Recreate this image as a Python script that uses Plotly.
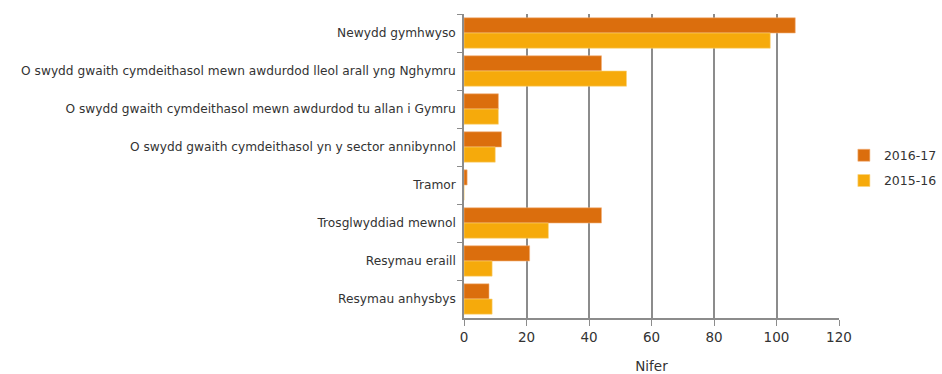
import plotly.graph_objects as go

categories = [
    "Newydd gymhwyso",
    "O swydd gwaith cymdeithasol mewn awdurdod lleol arall yng Nghymru",
    "O swydd gwaith cymdeithasol mewn awdurdod tu allan i Gymru",
    "O swydd gwaith cymdeithasol yn y sector annibynnol",
    "Tramor",
    "Trosglwyddiad mewnol",
    "Resymau eraill",
    "Resymau anhysbys",
]
vals_2016_17 = [106, 44, 11, 12, 1, 44, 21, 8]
vals_2015_16 = [98, 52, 11, 10, 0, 27, 9, 9]

fig = go.Figure()
fig.add_trace(go.Bar(y=categories, x=vals_2016_17, name="2016-17", orientation="h",
                     legendgroup="a",
                     marker=dict(color="#DB6E0D", line=dict(color="#F3B27A", width=0.6))))
fig.add_trace(go.Bar(y=categories, x=vals_2015_16, name="2015-16", orientation="h",
                     legendgroup="b",
                     marker=dict(color="#F6AA0B", line=dict(color="#FAD37E", width=0.6))))

fig.update_layout(
    width=942, height=374,
    margin=dict(l=464, r=103, t=14, b=56, autoexpand=False),
    barmode="group", bargap=0.2, bargroupgap=0,
    plot_bgcolor="white", paper_bgcolor="white",
    font=dict(family="DejaVu Sans, Verdana, sans-serif", size=12.2, color="#333333"),
    legend=dict(x=1.013, y=0.493, xanchor="left", yanchor="middle",
                font=dict(size=12.5), itemwidth=30, tracegroupgap=6),
)
fig.update_xaxes(
    range=[0, 120], dtick=20, showgrid=True, gridcolor="#8C8C8C", gridwidth=1.5,
    showline=True, linecolor="#8C8C8C", linewidth=1.5,
    ticks="outside", ticklen=6, tickcolor="#8C8C8C",
    tickfont=dict(size=13.5), automargin=False,
    title=dict(text="Nifer", font=dict(size=13.5), standoff=20),
    zeroline=False,
)
fig.update_yaxes(
    autorange="reversed", showline=True, linecolor="#8C8C8C", linewidth=1.5,
    ticks="outside", ticklen=5, tickcolor="#8C8C8C", tickson="boundaries",
    showgrid=False, ticklabelstandoff=4, automargin=False,
)

# drop the default page margin so the figure sits at the top-left corner
fig.write_html("out.html", config={"displayModeBar": False},
               post_script="document.body.style.margin='0';")
